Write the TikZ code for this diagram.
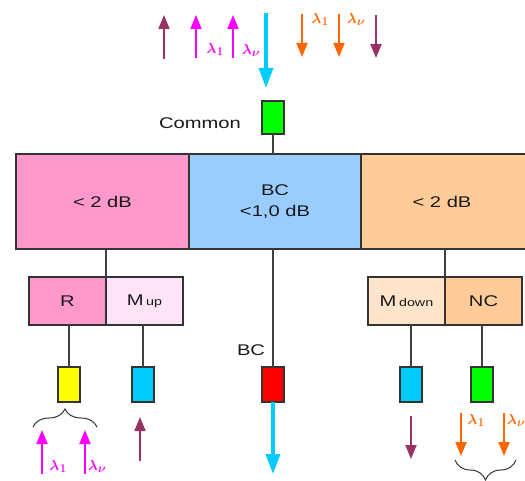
\documentclass[tikz,border=0pt]{standalone}
\usepackage{fontspec}
\setmainfont{Liberation Sans}
\usetikzlibrary{arrows.meta,decorations.pathreplacing}
\definecolor{cpink}{HTML}{FF99CC}
\definecolor{cblue}{HTML}{99CCFF}
\definecolor{corange}{HTML}{FFCC99}
\definecolor{cltpink}{HTML}{FFE4F8}
\definecolor{cltorange}{HTML}{FDE4CB}
\definecolor{cgreen}{HTML}{00FF00}
\definecolor{ccyan}{HTML}{00CCFF}
\definecolor{cred}{HTML}{FF0000}
\definecolor{cyellow}{HTML}{FFFF00}
\definecolor{cmag}{HTML}{FF00FF}
\definecolor{cdmag}{HTML}{993366}
\definecolor{corg}{HTML}{FF6600}
\definecolor{cedge}{HTML}{333333}
\definecolor{cline}{HTML}{404040}
\newcommand{\wx}[1]{\scalebox{1.3}[1]{#1}}
\newcommand{\lamsub}[1]{{\fontsize{14}{16}\selectfont\boldmath$\lambda$}\kern0.3pt\raisebox{-2pt}{\fontsize{11.5}{13}\selectfont\boldmath$#1$}}
\tikzset{
  box/.style={draw=cedge, line width=1.4pt, inner sep=0pt, outer sep=0pt, text=black!90},
  bigseg/.style={box, minimum height=95pt, font=\fontsize{15.5}{21}\selectfont, align=center},
  subseg/.style={box, minimum width=77pt, minimum height=48pt, font=\fontsize{15.5}{19}\selectfont},
  smallbox/.style={box, minimum width=22pt, minimum height=35pt},
  conn/.style={draw=cline, line width=1.4pt},
  thinarr/.style={line width=2pt, -{Triangle[length=14pt,width=11pt]}},
  bigarr/.style={line width=3.5pt, draw=ccyan, -{Triangle[length=20pt,width=14pt]}},
  lam/.style={inner sep=0pt},
  lbl/.style={inner sep=0pt, font=\fontsize{15.5}{19}\selectfont, text=black!90},
  brc/.style={draw=black!80, line width=1pt, decorate}
}
\begin{document}
\begin{tikzpicture}[x=1pt,y=-1pt]
\useasboundingbox (0,0) rectangle (525,481);
\clip (0,0) rectangle (525,481);

% top arrows
\coordinate (t1a) at (164,59); \coordinate (t1b) at (164,15);
\coordinate (t2a) at (196,58); \coordinate (t2b) at (196,15);
\coordinate (t3a) at (233,58); \coordinate (t3b) at (233,15);
\coordinate (t4a) at (266,13); \coordinate (t4b) at (266,88);
\coordinate (t5a) at (302,14); \coordinate (t5b) at (302,57);
\coordinate (t6a) at (339,14); \coordinate (t6b) at (339,57);
\coordinate (t7a) at (376,15); \coordinate (t7b) at (376,58);
\draw[thinarr, draw=cdmag, fill=cdmag] (t1a) -- (t1b);
\draw[thinarr, draw=cmag] (t2a) -- (t2b);
\draw[thinarr, draw=cmag] (t3a) -- (t3b);
\draw[bigarr] (t4a) -- (t4b);
\draw[thinarr, draw=corg] (t5a) -- (t5b);
\draw[thinarr, draw=corg] (t6a) -- (t6b);
\draw[thinarr, draw=cdmag] (t7a) -- (t7b);
\node[lam, text=cmag] (tl1) at (215,50) {\lamsub{1}};
\node[lam, text=cmag] (tl2) at (251,51) {\lamsub{\nu}};
\node[lam, text=corg] (tl3) at (320,20) {\lamsub{1}};
\node[lam, text=corg] (tl4) at (356,20) {\lamsub{\nu}};

% common
\node[smallbox, fill=cgreen, minimum height=33pt] (common) at (273,117.5) {};
\node[lbl] (commonlbl) at (200,123) {\wx{Common}};

% main bar
\node[bigseg, fill=cpink, minimum width=173pt] (lbar) at (102.5,201.5) {\wx{< 2 dB}};
\node[bigseg, fill=cblue, minimum width=172pt] (mbar) at (275,201.5) {\wx{BC}\\\wx{<1,0 dB}};
\node[bigseg, fill=corange, minimum width=170pt] (rbar) at (446,201.5) {\hspace*{-8pt}\wx{< 2 dB}};
\draw[conn] (common.south) -- (common.south |- mbar.north);

% sub boxes
\node[subseg, fill=cpink] (R) at (67.5,301) {\wx{R}};
\node[subseg, fill=cltpink] (Mup) at (144.5,301) {\wx{M}\,{\fontsize{11}{13}\selectfont\wx{up}}};
\node[subseg, fill=cltorange] (Mdown) at (406.5,301) {\wx{M}\,{\fontsize{11}{13}\selectfont\wx{down}}};
\node[subseg, fill=corange] (NC) at (483.5,301) {\wx{NC}};
\draw[conn] (R.north east) -- (R.north east |- lbar.south);
\draw[conn] (Mdown.north east) -- (Mdown.north east |- rbar.south);

% small boxes
\node[smallbox, fill=cyellow] (yel) at (69,384.5) {};
\node[smallbox, fill=ccyan] (cyan1) at (143,384.5) {};
\node[smallbox, fill=cred] (red) at (273,384.5) {};
\node[smallbox, fill=ccyan] (cyan2) at (411,384.5) {};
\node[smallbox, fill=cgreen] (green2) at (482,384.5) {};
\draw[conn] (yel.north) -- (yel.north |- R.south);
\draw[conn] (cyan1.north) -- (cyan1.north |- Mup.south);
\draw[conn] (red.north) -- (red.north |- mbar.south);
\draw[conn] (cyan2.north) -- (cyan2.north |- Mdown.south);
\draw[conn] (green2.north) -- (green2.north |- NC.south);
\node[lbl] (bclbl) at (251,350) {\wx{BC}};

% output arrow BC
\coordinate (bcend) at (273,474);
\draw[bigarr] (red.south) -- (bcend);

% bottom left
\coordinate (bl1a) at (42,474); \coordinate (bl1b) at (42,430);
\coordinate (bl2a) at (85,474); \coordinate (bl2b) at (85,430);
\coordinate (bl3a) at (140,461); \coordinate (bl3b) at (140,417);
\draw[thinarr, draw=cmag] (bl1a) -- (bl1b);
\draw[thinarr, draw=cmag] (bl2a) -- (bl2b);
\draw[thinarr, draw=cdmag] (bl3a) -- (bl3b);
\node[lam, text=cmag] (bll1) at (58,466) {\lamsub{1}};
\node[lam, text=cmag] (bll2) at (97,466) {\lamsub{\nu}};
\coordinate (brl1) at (33,427); \coordinate (brl2) at (97,427);
\draw[brc, decoration={brace, amplitude=18pt}] (brl1) -- (brl2);

% bottom right
\coordinate (br1a) at (411,416); \coordinate (br1b) at (411,459);
\coordinate (br2a) at (461,413); \coordinate (br2b) at (461,456);
\coordinate (br3a) at (504,413); \coordinate (br3b) at (504,456);
\draw[thinarr, draw=cdmag] (br1a) -- (br1b);
\draw[thinarr, draw=corg] (br2a) -- (br2b);
\draw[thinarr, draw=corg] (br3a) -- (br3b);
\node[lam, text=corg] (brl3) at (476,420) {\lamsub{1}};
\node[lam, text=corg] (brl4) at (516,420) {\lamsub{\nu}};
\coordinate (brr1) at (516,460); \coordinate (brr2) at (455,460);
\draw[brc, decoration={brace, amplitude=20pt}] (brr1) -- (brr2);
\end{tikzpicture}
\end{document}
